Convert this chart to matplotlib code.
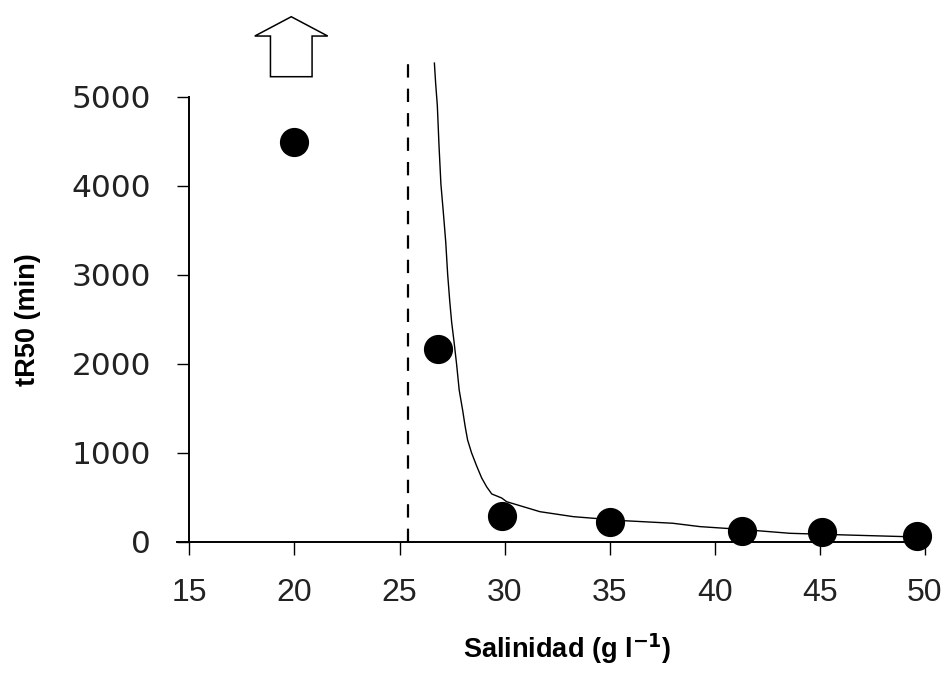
import matplotlib
matplotlib.use("Agg")
import matplotlib.pyplot as plt
from matplotlib.patches import FancyArrow

# measured points
salinity = [20.0, 26.85, 29.9, 35.0, 41.3, 45.1, 49.6]
tr50 = [4490, 2165, 293, 217, 124, 105, 68]

# fitted curve
curve_x = [26.66, 26.72, 26.80, 26.88, 26.97, 27.08, 27.20, 27.29, 27.39, 27.48,
           27.59, 27.72, 27.84, 28.01, 28.12, 28.24, 28.43, 28.67, 28.91, 29.15,
           29.39, 29.86, 30.1, 31.68, 33.27, 35.65, 38.0, 39.3, 41.2, 43.58,
           46.27, 49.13, 50.08]
curve_y = [5378, 5150, 4900, 4450, 4018, 3716, 3367, 3008, 2704, 2469,
           2256, 1987, 1704, 1469, 1300, 1143, 997, 851, 716, 615,
           536, 491, 449, 337, 281, 236, 207, 169, 139, 94,
           75, 56, 49]

# threshold salinity (dashed line)
threshold_x = 25.4
threshold_top = 5380

# off-scale marker for the 20 g/l point
arrow_x = 19.85
arrow_base = 5225
arrow_tip = 5899

xticks = [15, 20, 25, 30, 35, 40, 45, 50]
yticks = [0, 1000, 2000, 3000, 4000, 5000]

fig = plt.figure(figsize=(9.45, 6.81), dpi=100)
ax = fig.add_axes([0.187, 0.2046, 0.794, 0.7775])

ax.plot(curve_x, curve_y, color='black', lw=1.0, zorder=2)
ax.vlines(threshold_x, 0, threshold_top, colors='black', lw=1.6,
          linestyles=(0, (6, 5)), zorder=2)
ax.plot(salinity, tr50, 'o', color='black', markersize=20, zorder=3,
        clip_on=False)

ax.add_patch(FancyArrow(arrow_x, arrow_base, 0, arrow_tip - arrow_base,
                        width=1.98, head_width=3.47, head_length=217,
                        length_includes_head=True, facecolor='white',
                        edgecolor='black', lw=1.1, clip_on=False))

ax.set_xlim(14.4, 50.1)
ax.set_ylim(0, 5950)

for s in ['top', 'right']:
    ax.spines[s].set_visible(False)
ax.spines['left'].set_position(('data', 15))
ax.spines['left'].set_bounds(0, 5000)
ax.spines['left'].set_linewidth(1.4)
ax.spines['bottom'].set_linewidth(1.4)

ax.set_xticks(xticks)
ax.set_yticks(yticks)
ax.tick_params(axis='x', direction='out', length=9, width=1.0, pad=17)
ax.tick_params(axis='y', direction='out', length=8.5, width=1.0, pad=19)
for lab in ax.get_xticklabels():
    lab.set_fontfamily('Liberation Sans')
    lab.set_fontsize(23)
    lab.set_color('#222222')
for lab in ax.get_yticklabels():
    lab.set_fontfamily('DejaVu Sans')
    lab.set_fontsize(22.5)
    lab.set_color('#222222')

fig.text(0.6, 0.047, 'Salinidad (g l$^{\\mathbf{-1}}$)', ha='center', va='center',
         fontsize=19.5, fontweight='bold', family='Liberation Sans')
fig.text(0.030, 0.53, 'tR50 (min)', ha='center', va='center', rotation=90,
         fontsize=19.5, fontweight='bold', family='Liberation Sans')

fig.savefig('out.png', dpi=100)
